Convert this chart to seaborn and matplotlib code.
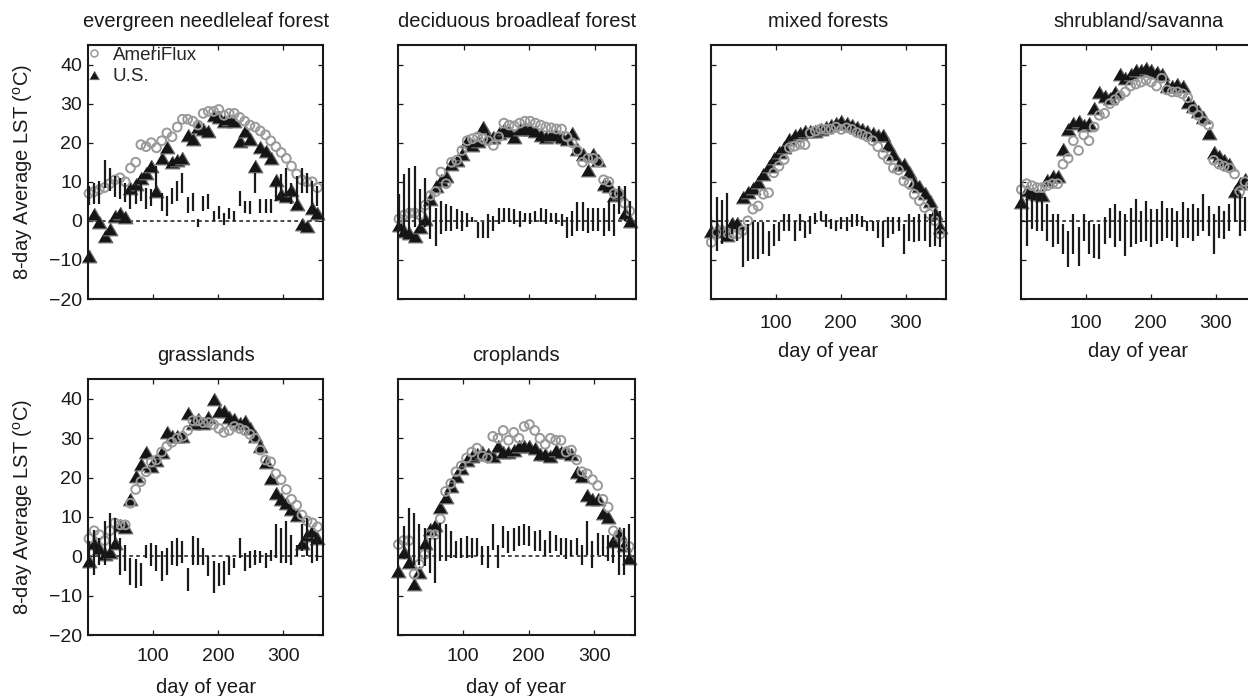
import matplotlib
matplotlib.use("Agg")
import matplotlib.pyplot as plt
import seaborn as sns
import numpy as np
from matplotlib.lines import Line2D

# ---------------- data ----------------
days = [1, 9, 17, 25, 33, 41, 49, 57, 65, 73, 81, 89, 97, 105, 113, 121, 129, 137,
        145, 153, 161, 169, 177, 185, 193, 201, 209, 217, 225, 233, 241, 249, 257,
        265, 273, 281, 289, 297, 305, 313, 321, 329, 337, 345, 353]

titles = ["evergreen needleleaf forest", "deciduous broadleaf forest", "mixed forests",
          "shrubland/savanna", "grasslands", "croplands"]

# evergreen needleleaf forest
ameri_enf = [7.0, 7.5, 8.0, 8.5, 9.5, 10.5, 11.0, 10.0, 13.5, 15.0, 19.5, 19.0, 20.0, 18.7, 20.5,
             22.5, 21.5, 24.0, 26.0, 26.0, 25.5, 24.5, 27.5, 28.0, 28.0, 28.5, 27.0, 27.5, 27.5,
             26.5, 25.5, 24.5, 24.0, 23.0, 22.0, 20.5, 19.0, 17.5, 16.0, 14.0, 12.0, 10.5, 10.0,
             10.0, 8.5]
us_enf = [-9.0, 1.7, -0.4, -3.8, -2.1, 1.3, 2.1, 0.9, 8.5, 9.5, 11.0, 12.3, 14.0, 7.7, 16.0, 19.0,
          15.0, 15.5, 16.0, 22.0, 21.0, 24.0, 23.5, 23.0, 27.0, 26.5, 25.5, 26.0, 25.5, 20.5, 23.0,
          21.0, 14.0, 19.0, 18.0, 16.0, 10.5, 6.8, 6.4, 8.0, 4.3, -0.9, -1.3, 3.3, 2.1]
lo_enf = [4.0, 4.3, 4.3, 8.5, 7.7, 6.0, 5.5, 4.7, 3.0, 4.3, 5.1, 3.0, 3.8, 7.2, 2.6, 1.3, 4.3, 5.1,
          7.2, 2.1, 2.6, -1.7, 2.6, 3.0, 0.0, 0.4, -1.0, 0.4, 0.0, 3.8, 2.1, 1.7, 7.2, 2.1, 2.1,
          2.1, 5.1, 5.1, 6.0, 4.3, 5.0, 7.2, 7.2, 2.6, 3.8]
hi_enf = [9.0, 9.8, 10.2, 15.5, 13.6, 11.5, 11.0, 9.8, 8.9, 9.8, 10.2, 8.5, 8.1, 14.0, 7.2, 6.4,
          8.5, 10.2, 12.3, 6.0, 7.0, 0.4, 6.4, 6.8, 2.6, 3.8, 2.1, 3.4, 2.6, 7.7, 5.1, 5.1, 12.3,
          5.5, 5.5, 5.5, 11.0, 12.0, 13.6, 9.8, 11.5, 13.6, 12.3, 10.2, 8.9]

# deciduous broadleaf forest
ameri_dbf = [0.5, 1.5, 2.0, 2.0, 1.5, 4.0, 6.5, 7.5, 12.5, 9.5, 15.0, 15.5, 18.0, 20.5, 21.0, 21.5,
             21.0, 20.5, 19.3, 21.5, 25.0, 24.5, 24.3, 25.0, 25.5, 25.5, 25.0, 24.5, 24.0, 23.8,
             23.5, 23.5, 21.5, 20.0, 18.0, 15.0, 16.0, 16.0, 15.0, 10.5, 10.0, 7.0, 7.0, 4.5, 2.5]
us_dbf = [-1.0, -2.5, -3.0, -3.8, -1.5, 0.5, 5.5, 9.0, 10.5, 11.5, 14.5, 15.5, 17.0, 20.5, 19.5,
          20.5, 24.0, 21.5, 21.5, 22.5, 23.5, 23.0, 21.5, 23.5, 23.5, 23.5, 23.0, 22.0, 21.5, 22.0,
          22.0, 21.5, 21.0, 22.5, 18.5, 17.0, 13.0, 17.0, 15.5, 9.5, 9.0, 6.5, 7.0, 2.0, 0.0]
lo_dbf = [-2.6, -2.6, -3.4, -1.7, -2.6, -1.7, -4.7, -6.4, -3.4, -2.6, -2.6, -2.1, -2.6, -1.7, -0.4,
          -4.3, -4.3, -4.3, -2.6, -0.9, -0.4, -0.4, -0.9, -1.7, -0.4, -0.9, -0.4, -0.4, -0.9, -0.4,
          -0.9, -1.3, -4.3, -3.8, -2.6, -2.6, -3.0, -2.6, -2.6, -3.8, -2.6, -3.8, 1.7, 0.0, 0.0]
hi_dbf = [6.8, 11.9, 13.6, 14.0, 8.1, 11.0, 5.1, 3.4, 5.1, 4.3, 3.8, 3.0, 2.6, 2.1, 0.9, -0.4, -0.4,
          1.7, 1.3, 3.4, 3.4, 3.4, 3.0, 2.6, 2.1, 2.1, 2.6, 3.4, 3.0, 2.1, 2.1, 1.7, 0.9, 2.6, 4.7,
          4.7, 3.4, 3.4, 3.4, 3.4, 5.1, 4.3, 8.9, 8.9, 5.1]

# mixed forests
ameri_mf = [-5.5, -3.0, -2.5, -3.0, -3.4, -3.4, -2.5, 0.0, 3.0, 3.8, 6.8, 7.2, 12.3, 14.0, 15.7,
            18.7, 19.1, 19.6, 19.5, 22.5, 23.0, 23.5, 23.4, 23.5, 24.0, 23.4, 23.8, 23.4, 22.6,
            22.1, 21.5, 20.5, 19.0, 17.0, 15.7, 13.5, 13.0, 10.2, 9.5, 6.8, 5.1, 3.4, 1.7, 0.0, -3.4]
us_mf = [-2.5, -2.0, -2.5, -3.5, -0.5, -0.5, 6.0, 7.5, 8.5, 10.0, 12.0, 14.0, 16.0, 17.5, 19.0,
         21.0, 22.0, 22.5, 23.0, 23.0, 23.0, 23.5, 24.0, 24.5, 25.0, 25.5, 25.0, 24.5, 24.0, 23.5,
         23.0, 22.5, 22.0, 22.0, 19.5, 17.0, 14.5, 14.5, 12.5, 10.0, 9.0, 7.0, 5.0, 2.0, -1.5]
lo_mf = [-4.0, -7.7, -6.0, -4.3, -3.4, -5.1, -11.9, -10.2, -9.8, -9.8, -8.5, -8.9, -6.4, -5.1,
         -2.6, -2.6, -5.1, -2.6, -4.3, -3.4, -0.9, 0.0, -1.7, -2.1, -2.6, -2.1, -2.6, -1.7, -1.3,
         -1.7, -2.6, -2.6, -4.3, -6.8, -4.3, -3.4, -2.6, -8.5, -5.1, -5.5, -5.1, -5.1, -6.8, -6.4,
         -6.8]
hi_mf = [1.0, 6.0, 5.3, 7.0, 0.4, -0.9, -1.7, -0.9, -0.4, -0.4, -0.4, -2.6, -0.9, -0.4, 1.7, 1.7,
         0.0, 1.7, 0.0, 1.3, 2.1, 2.6, 1.7, 0.4, 0.0, 0.9, 0.9, 1.7, 1.7, 1.3, 0.0, 0.0, -0.4, 0.0,
         0.9, 0.9, 0.9, -0.9, 1.7, 0.9, 1.7, 1.7, 1.7, 3.0, 2.6]

# shrubland/savanna
ameri_shr = [8.0, 9.5, 9.0, 8.5, 8.5, 9.0, 9.5, 9.5, 14.5, 16.0, 20.5, 18.0, 22.0, 20.5, 24.0, 27.0,
             27.5, 30.0, 31.0, 32.0, 33.0, 34.5, 35.0, 35.5, 36.0, 35.5, 34.5, 36.5, 33.5, 33.0,
             33.0, 32.5, 31.5, 28.5, 27.0, 25.5, 24.5, 15.5, 14.5, 14.0, 13.5, 12.0, 7.5, 10.0, 9.0]
us_shr = [4.7, 8.0, 7.0, 6.8, 6.5, 10.5, 11.5, 11.5, 18.5, 23.5, 25.0, 25.5, 24.5, 25.0, 29.0, 33.0,
          32.0, 31.5, 33.0, 37.5, 36.5, 37.5, 38.5, 38.5, 39.0, 38.5, 38.0, 37.5, 34.5, 34.5, 35.0,
          34.5, 30.5, 29.5, 28.0, 26.5, 22.5, 17.5, 16.5, 15.5, 14.5, 7.7, 9.8, 10.6, 10.0]
lo_shr = [-2.6, -6.4, -2.1, -2.6, -2.6, -5.1, -6.8, -6.0, -8.5, -11.9, -8.5, -11.5, -5.1, -8.5,
          -9.4, -9.8, -6.0, -4.3, -6.8, -5.1, -8.9, -6.8, -6.0, -5.5, -5.1, -6.8, -6.0, -5.1, -4.3,
          -5.1, -6.8, -4.3, -4.3, -5.1, -3.8, -2.6, -3.8, -8.5, -4.3, -4.7, -2.6, -0.4, -3.8, -2.6,
          -2.6]
hi_shr = [6.0, 7.2, 6.8, 7.2, 6.8, 4.3, 1.7, 1.7, -0.9, -2.6, 1.7, -1.7, 1.7, 0.0, -0.9, -0.9, 0.9,
          3.4, 4.3, 2.6, 1.7, 3.4, 5.5, 2.6, 5.1, 3.0, 3.0, 5.1, 3.4, 3.4, 2.6, 4.7, 3.4, 4.3, 3.4,
          6.8, 3.8, 1.7, 3.8, 2.6, 4.3, 6.8, 6.8, 6.0, 5.1]

# grasslands
ameri_grs = [4.5, 6.5, 5.5, 4.0, 6.5, 8.5, 8.0, 8.0, 13.5, 17.0, 19.0, 21.5, 24.0, 24.5, 26.5, 28.0,
             29.0, 30.0, 30.5, 32.0, 34.5, 34.5, 34.0, 34.0, 33.5, 32.5, 31.5, 32.0, 33.0, 32.5,
             32.0, 31.0, 30.0, 27.0, 24.5, 24.0, 21.0, 19.5, 17.0, 14.5, 13.0, 10.5, 9.0, 8.5, 7.5]
us_grs = [-1.3, 3.5, 2.0, 0.5, 1.0, 3.5, 8.0, 7.5, 14.5, 20.5, 23.5, 26.5, 23.0, 24.5, 26.5, 31.5,
          30.5, 30.5, 30.5, 36.5, 34.0, 35.0, 34.0, 35.5, 40.0, 37.0, 37.0, 35.5, 35.0, 34.0, 34.5,
          32.5, 30.5, 28.0, 24.0, 20.0, 16.0, 14.5, 13.5, 12.0, 10.5, 3.4, 5.5, 6.4, 4.7]
lo_grs = [-1.0, -4.7, -2.1, -2.1, 0.8, 2.1, -4.7, -3.8, -7.2, -8.1, -7.6, -0.4, -2.5, -3.8, -6.4,
          -4.7, -2.1, -2.5, -1.7, -8.9, -2.1, -2.1, -2.1, -5.0, -9.3, -7.6, -7.2, -4.7, -3.0, -0.4,
          -3.8, -3.0, -2.1, -1.7, -3.0, -1.3, -0.4, -1.7, -1.7, -2.1, 0.0, 1.3, 0.0, -1.7, -1.3]
hi_grs = [4.0, 6.8, 4.7, 8.9, 11.0, 9.8, 4.7, 3.0, -0.4, -0.8, -1.7, 3.0, 3.4, 3.0, 1.3, 2.1, 3.8,
          4.7, 3.8, -3.0, 5.1, 4.7, 2.1, 0.0, -1.3, -1.7, -1.3, 0.0, -0.4, 4.7, 0.8, 1.3, 1.7, 1.3,
          0.8, 1.7, 8.1, 7.2, 8.9, 5.5, 3.0, 8.1, 9.8, 7.2, 5.5]

# croplands
ameri_crp = [3.0, 4.0, 4.0, -4.5, -2.0, 0.5, 5.5, 5.5, 9.5, 16.5, 18.5, 21.5, 23.0, 25.0, 26.5, 27.5,
             25.5, 25.0, 30.5, 30.0, 32.0, 29.5, 31.5, 30.0, 33.0, 33.5, 32.0, 30.0, 28.5, 30.0,
             29.5, 29.5, 26.5, 27.0, 24.5, 21.5, 21.0, 19.5, 18.0, 14.5, 12.5, 6.5, 5.5, 3.0, 2.5]
us_crp = [-3.8, 1.0, -1.5, -7.0, -4.0, 3.5, 7.0, 8.0, 12.5, 15.0, 18.0, 20.5, 22.5, 24.5, 25.5, 26.0,
          26.5, 26.0, 25.5, 28.0, 26.5, 26.5, 27.0, 28.0, 28.0, 28.0, 27.5, 26.0, 26.0, 25.5, 27.0,
          26.5, 26.5, 26.0, 21.5, 20.5, 15.5, 14.5, 14.5, 11.0, 10.0, 4.0, 6.0, 3.0, -0.5]
lo_crp = [-0.5, -0.8, -0.4, -2.1, -2.1, -2.5, -4.2, -6.8, -1.3, -1.3, -0.4, -0.4, -0.4, -0.4, -0.4,
          0.0, -2.1, -3.0, 1.7, -3.0, 2.1, 0.8, 1.3, 2.5, 3.0, 2.5, 1.3, 1.3, 0.0, 0.8, 1.3, 0.4,
          -0.8, 0.0, 0.4, -2.1, 0.4, -3.0, 0.4, 0.0, -1.3, -1.7, -4.7, -4.7, -0.4]
hi_crp = [5.0, 7.6, 12.3, 11.0, 8.1, 7.2, 4.7, 4.7, 8.5, 8.1, 6.4, 3.8, 4.7, 5.1, 4.7, 4.7, 2.5, 2.5,
          8.1, 3.0, 7.6, 6.4, 7.2, 7.6, 8.1, 7.6, 6.4, 6.8, 4.2, 6.4, 5.5, 4.7, 4.7, 4.2, 4.7, 3.0,
          8.9, 3.8, 5.9, 5.5, 5.5, 4.7, 6.8, 7.2, 8.1]

yticks = [-20, -10, 0, 10, 20, 30, 40]
xticks = [100, 200, 300]
ylabel_text = r"8-day Average LST ($^{\rm o}$C)"
xlabel_text = "day of year"

# ---------------- style ----------------
sns.set_theme(style="ticks")
plt.rcParams["font.family"] = ["Liberation Sans", "DejaVu Sans"]
plt.rcParams["mathtext.fontset"] = "custom"
plt.rcParams["mathtext.rm"] = "Liberation Sans"
plt.rcParams["mathtext.it"] = "Liberation Sans:italic"
plt.rcParams["axes.facecolor"] = "white"
plt.rcParams["figure.facecolor"] = "white"

CIRC = "#999999"
TRI_FACE = "#151515"
TRI_EDGE = "#6a6a6a"
tri_marker = [(-1.0, -0.866), (1.0, -0.866), (0.0, 0.866)]

fig = plt.figure(figsize=(12.48, 6.96), dpi=100)

W, H = 1248.0, 696.0


def rect(l, t, r, b):
    return [l / W, (H - b) / H, (r - l) / W, (b - t) / H]


panels = [
    (titles[0], ameri_enf, us_enf, lo_enf, hi_enf, rect(88.3, 45, 323.3, 299), True, False, True),
    (titles[1], ameri_dbf, us_dbf, lo_dbf, hi_dbf, rect(398.3, 45, 635.7, 299), False, False, True),
    (titles[2], ameri_mf, us_mf, lo_mf, hi_mf, rect(710.7, 45, 946.0, 299), False, True, True),
    (titles[3], ameri_shr, us_shr, lo_shr, hi_shr, rect(1020.7, 45, 1256.0, 299), False, True, True),
    (titles[4], ameri_grs, us_grs, lo_grs, hi_grs, rect(88.3, 379.3, 323.3, 635), True, True, False),
    (titles[5], ameri_crp, us_crp, lo_crp, hi_crp, rect(397.7, 379.3, 635.0, 635), False, True, False),
]

for i, (title, ameri, us, lo, hi, r, ylab, xlab, toprow) in enumerate(panels):
    ax = fig.add_axes(r)
    ax.axhline(0, color="k", lw=1.1, ls=(0, (2.5, 2.0)), zorder=1.5)
    sns.scatterplot(x=np.array(days), y=np.array(us), marker=tri_marker, s=110,
                    color=TRI_FACE, edgecolor=TRI_EDGE, linewidth=0.9, ax=ax,
                    zorder=2, clip_on=False, legend=False)
    sns.scatterplot(x=np.array(days), y=np.array(ameri), marker="o", s=40,
                    facecolor="none", edgecolor=CIRC, linewidth=1.4, ax=ax,
                    zorder=3, clip_on=False, legend=False)
    ax.vlines(days, lo, hi, colors="k", lw=1.6, zorder=4)

    ax.set_xlim(0, 362)
    ax.set_ylim(-20, 45)
    ax.set_xticks(xticks)
    ax.set_yticks(yticks)
    ax.tick_params(direction="in", top=True, right=True, length=3.5, width=0.9,
                   labelsize=14, colors="k")
    ax.tick_params(axis="y", pad=4.5)
    ax.tick_params(axis="x", pad=11.5 if toprow else 9.5)
    if not ylab:
        ax.set_yticklabels([])
    if not xlab:
        ax.set_xticklabels([])
    for sp in ax.spines.values():
        sp.set_visible(True)
        sp.set_linewidth(1.5)
        sp.set_color("k")
        sp.set_zorder(5)
    ax.set_title(title, fontsize=14.5, pad=13, color="k")
    ax.set_xlabel(xlabel_text if xlab else "", fontsize=14.5, color="k")
    ax.set_ylabel(ylabel_text if ylab else "", fontsize=14.5, color="k")
    ax.xaxis.set_label_coords(0.5, -0.17)
    ax.yaxis.set_label_coords(-0.225, 0.5)
    ax.grid(False)

    if i == 0:
        handles = [
            Line2D([], [], marker="o", ls="none", mfc="none", mec=CIRC, mew=1.1, ms=5.0),
            Line2D([], [], marker=tri_marker, ls="none", mfc=TRI_FACE, mec=TRI_EDGE, mew=0.6, ms=7.0),
        ]
        ax.legend(handles, ["AmeriFlux", "U.S."], loc="upper left", bbox_to_anchor=(0, 1),
                  frameon=False, fontsize=13.5, borderaxespad=0, borderpad=0.1,
                  handlelength=0.4, handletextpad=0.8, labelspacing=0.23)

fig.savefig("out.png", dpi=100)
